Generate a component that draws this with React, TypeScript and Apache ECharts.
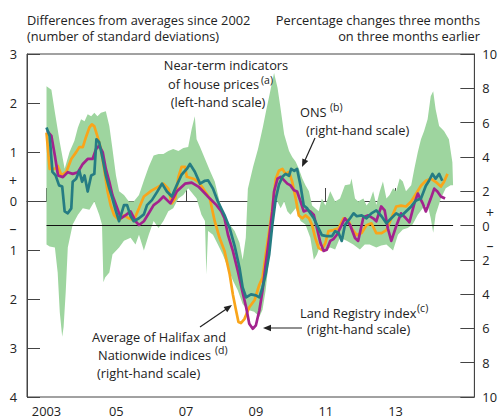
import React, { useEffect, useRef } from "react";
import * as echarts from "echarts";

// ---- Data ----
const xTickYears = [2003, 2005, 2007, 2009, 2011, 2013];
const xTickLabels = ["2003", "05", "07", "09", "11", "13"];

// Average of Halifax and Nationwide indices (right-hand scale, % 3m on 3m)
const halifaxNationwide: [number, number][] = [
  [2003.0, 5.42], [2003.09, 3.3], [2003.24, 3.3], [2003.32, 3.48], [2003.43, 2.92], [2003.57, 3.13],
  [2003.71, 3.88], [2003.85, 4.28], [2003.94, 4.57], [2004.04, 4.57], [2004.13, 5.15], [2004.23, 5.72],
  [2004.3, 5.9], [2004.37, 5.78], [2004.46, 5.2], [2004.56, 4.46], [2004.65, 3.3], [2004.75, 1.98],
  [2004.84, 1.17], [2004.94, 0.59], [2005.08, 0.31], [2005.22, 0.59], [2005.36, 0.42], [2005.5, 0.31],
  [2005.65, 1.0], [2005.79, 1.69], [2006.01, 2.03], [2006.21, 2.27], [2006.35, 2.44], [2006.49, 2.15],
  [2006.59, 1.29], [2006.69, 1.57], [2006.78, 2.84], [2006.87, 3.42], [2006.97, 3.42], [2007.02, 2.84],
  [2007.21, 2.73], [2007.35, 2.55], [2007.49, 2.15], [2007.68, 1.57], [2007.82, 0.25], [2007.96, -0.73],
  [2008.1, -1.48], [2008.25, -2.86], [2008.34, -4.02], [2008.43, -4.94], [2008.5, -5.63], [2008.57, -5.69],
  [2008.67, -5.46], [2008.81, -4.77], [2008.96, -4.36], [2009.1, -3.44], [2009.19, -3.04], [2009.28, -1.71],
  [2009.38, -0.33], [2009.47, 1.0], [2009.57, 2.73], [2009.66, 3.19], [2009.76, 3.3], [2009.85, 3.01],
  [2009.95, 3.13], [2010.04, 2.55], [2010.14, 1.57], [2010.23, 0.59], [2010.33, 0.42], [2010.42, 0.59],
  [2010.52, 0.42], [2010.61, 0.02], [2010.7, -0.73], [2010.8, -1.31], [2010.89, -1.42], [2010.99, -1.02],
  [2011.08, -0.33], [2011.22, -0.27], [2011.37, -0.16], [2011.51, 0.42], [2011.65, 0.31], [2011.74, -0.16],
  [2011.89, -0.56], [2012.03, -0.44], [2012.17, 0.02], [2012.31, 0.13], [2012.45, -0.44], [2012.6, -0.44],
  [2012.74, -0.27], [2012.88, 0.42], [2013.02, 1.11], [2013.16, 1.16], [2013.3, 1.11], [2013.45, 1.4],
  [2013.59, 1.86], [2013.73, 2.32], [2013.87, 2.61], [2014.01, 2.73], [2014.15, 2.55], [2014.3, 2.27],
  [2014.39, 2.55], [2014.49, 3.01],
];

// ONS (right-hand scale)
const ons: [number, number][] = [
  [2003.0, 5.71], [2003.09, 5.22], [2003.17, 3.13], [2003.26, 2.92], [2003.36, 2.34], [2003.45, 2.27],
  [2003.52, 0.82], [2003.61, 0.71], [2003.71, 1.0], [2003.75, 2.55], [2003.85, 2.73], [2003.94, 3.2],
  [2004.02, 2.55], [2004.09, 2.92], [2004.18, 1.98], [2004.28, 2.92], [2004.37, 3.01], [2004.43, 5.03],
  [2004.51, 4.86], [2004.61, 3.88], [2004.7, 2.92], [2004.8, 2.15], [2004.89, 1.57], [2004.99, 0.82],
  [2005.08, 0.25], [2005.22, 1.19], [2005.31, 1.19], [2005.41, 0.54], [2005.5, 0.25], [2005.65, 0.42],
  [2005.79, 0.65], [2005.88, 1.19], [2006.02, 1.48], [2006.17, 1.96], [2006.31, 2.44], [2006.45, 1.98],
  [2006.59, 1.69], [2006.73, 2.34], [2006.87, 2.96], [2007.02, 3.3], [2007.11, 3.59], [2007.25, 3.13],
  [2007.4, 2.44], [2007.54, 2.61], [2007.63, 2.63], [2007.77, 2.15], [2007.91, 1.4], [2008.1, 0.61],
  [2008.25, -0.16], [2008.39, -1.19], [2008.53, -2.46], [2008.62, -3.61], [2008.72, -4.19], [2008.86, -4.02],
  [2009.0, -4.07], [2009.1, -4.19], [2009.19, -3.61], [2009.28, -2.86], [2009.38, -1.71], [2009.47, 0.02],
  [2009.57, 1.57], [2009.66, 2.38], [2009.76, 2.84], [2009.85, 3.01], [2009.95, 2.9], [2010.01, 3.3],
  [2010.1, 3.19], [2010.18, 3.3], [2010.28, 2.32], [2010.37, 1.17], [2010.47, 1.0], [2010.56, 0.71],
  [2010.66, 0.42], [2010.75, 0.02], [2010.89, -0.56], [2011.03, -0.62], [2011.18, -0.62], [2011.27, -0.33],
  [2011.37, -0.44], [2011.46, -0.9], [2011.55, 0.02], [2011.7, 0.42], [2011.8, 0.71], [2011.89, 0.54],
  [2012.03, 0.59], [2012.17, 0.42], [2012.31, 0.71], [2012.45, 0.88], [2012.6, 0.54], [2012.74, 0.13],
  [2012.88, 0.42], [2013.02, 0.71], [2013.16, 0.54], [2013.3, 0.82], [2013.45, 1.11], [2013.59, 1.46],
  [2013.73, 1.57], [2013.87, 2.32], [2013.96, 2.61], [2014.06, 3.01], [2014.15, 2.73], [2014.25, 3.01],
  [2014.34, 2.61],
];

// Land Registry index (right-hand scale)
const landRegistry: [number, number][] = [
  [2003.02, 5.51], [2003.14, 5.22], [2003.24, 4.07], [2003.33, 2.92], [2003.47, 2.82], [2003.61, 3.11],
  [2003.75, 3.01], [2003.9, 3.11], [2004.04, 3.59], [2004.18, 3.88], [2004.32, 3.88], [2004.42, 4.46],
  [2004.51, 4.65], [2004.61, 4.28], [2004.7, 3.3], [2004.8, 2.55], [2004.89, 1.76], [2005.03, 1.0],
  [2005.13, 0.42], [2005.27, 0.61], [2005.41, 0.82], [2005.55, 0.25], [2005.65, 0.03], [2005.79, 0.25],
  [2005.93, 0.71], [2006.07, 1.19], [2006.21, 1.4], [2006.35, 1.69], [2006.55, 1.29], [2006.73, 1.98],
  [2006.97, 2.44], [2007.16, 2.5], [2007.35, 2.27], [2007.49, 1.98], [2007.68, 1.57], [2007.87, 1.19],
  [2008.01, 0.82], [2008.1, 0.42], [2008.2, -0.54], [2008.34, -1.48], [2008.48, -2.63], [2008.62, -3.9],
  [2008.72, -4.77], [2008.81, -5.73], [2008.91, -6.02], [2009.0, -5.82], [2009.1, -4.94], [2009.19, -3.79],
  [2009.28, -2.27], [2009.38, -0.73], [2009.47, 0.82], [2009.52, 1.98], [2009.62, 2.73], [2009.71, 2.84],
  [2009.81, 2.63], [2009.9, 2.44], [2009.99, 2.34], [2010.09, 2.05], [2010.18, 1.98], [2010.28, 1.4],
  [2010.37, 0.82], [2010.47, 0.9], [2010.56, 0.82], [2010.66, 0.61], [2010.75, -0.16], [2010.85, -1.02],
  [2010.94, -1.48], [2011.03, -1.41], [2011.13, -0.9], [2011.22, -0.79], [2011.32, -0.54], [2011.46, 0.03],
  [2011.55, 0.42], [2011.7, 0.03], [2011.84, -0.73], [2011.93, -0.9], [2012.08, 0.48], [2012.22, 0.59],
  [2012.36, 0.42], [2012.45, 0.25], [2012.59, 1.11], [2012.69, 0.88], [2012.78, -0.16], [2012.88, -0.9],
  [2013.02, -0.04], [2013.16, 0.71], [2013.3, 0.42], [2013.4, 0.19], [2013.54, 1.29], [2013.64, 1.86],
  [2013.78, 1.29], [2013.87, 0.82], [2014.01, 1.57], [2014.11, 2.15], [2014.2, 1.98], [2014.3, 1.69],
  [2014.42, 1.57],
];

// Near-term indicators of house prices: range (left-hand scale, standard deviations)
const bandUpper: [number, number][] = [
  [2003.0, 2.34], [2003.14, 2.27], [2003.24, 1.81], [2003.38, 1.2], [2003.52, 0.66], [2003.66, 1.0],
  [2003.8, 1.23], [2003.9, 1.5], [2003.99, 1.67], [2004.09, 1.63], [2004.18, 1.77], [2004.28, 1.73],
  [2004.37, 1.8], [2004.46, 1.73], [2004.56, 1.8], [2004.7, 1.83], [2004.8, 1.53], [2004.89, 1.06],
  [2004.99, 0.52], [2005.08, 0.2], [2005.22, 0.12], [2005.36, -0.01], [2005.5, -0.01], [2005.65, 0.12],
  [2005.79, 0.42], [2005.93, 0.7], [2006.07, 0.93], [2006.21, 0.96], [2006.35, 0.96], [2006.49, 1.02],
  [2006.63, 1.06], [2006.78, 1.02], [2006.92, 1.08], [2007.06, 1.1], [2007.16, 1.47], [2007.25, 1.73],
  [2007.3, 1.26], [2007.4, 1.1], [2007.54, 0.86], [2007.68, 0.62], [2007.82, 0.4], [2007.96, -0.01],
  [2008.1, -0.31], [2008.25, -0.48], [2008.39, -0.61], [2008.53, -0.85], [2008.62, -1.2], [2008.71, -0.75],
  [2008.77, 0.25], [2008.92, 0.7], [2009.06, 1.06], [2009.2, 1.51], [2009.29, 1.83], [2009.39, 2.17],
  [2009.52, 2.61], [2009.62, 2.31], [2009.71, 1.87], [2009.81, 1.36], [2009.95, 1.02], [2010.04, 0.9],
  [2010.14, 0.8], [2010.23, 0.66], [2010.33, 0.46], [2010.42, 0.32], [2010.52, 0.2], [2010.61, -0.09],
  [2010.7, -0.15], [2010.8, -0.21], [2010.89, 0.05], [2010.99, -0.09], [2011.13, 0.2], [2011.27, -0.01],
  [2011.41, 0.05], [2011.55, 0.32], [2011.7, 0.34], [2011.74, 0.46], [2011.84, 0.05], [2011.93, -0.01],
  [2012.08, 0.05], [2012.17, -0.09], [2012.26, -0.01], [2012.36, 0.2], [2012.45, -0.08], [2012.55, 0.2],
  [2012.64, 0.4], [2012.74, 0.05], [2012.83, 0.12], [2012.93, 0.26], [2013.02, 0.2], [2013.12, 0.46],
  [2013.21, 0.4], [2013.3, 0.2], [2013.45, 0.32], [2013.54, 0.66], [2013.64, 1.0], [2013.73, 1.26],
  [2013.82, 1.43], [2013.92, 1.67], [2014.01, 2.14], [2014.08, 2.24], [2014.15, 1.87], [2014.25, 1.53],
  [2014.39, 1.43], [2014.53, 1.26], [2014.63, 0.79], [2014.65, 0.32],
];

const bandLower: [number, number][] = [
  [2003.0, -0.89], [2003.09, -0.93], [2003.24, -0.95], [2003.32, -1.46], [2003.38, -2.27], [2003.45, -2.77],
  [2003.49, -2.57], [2003.55, -1.86], [2003.61, -0.95], [2003.75, -0.48], [2003.9, -0.28], [2004.04, -0.15],
  [2004.23, -0.18], [2004.37, -0.01], [2004.51, -0.28], [2004.59, -0.48], [2004.63, -1.66], [2004.68, -1.56],
  [2004.8, -1.46], [2004.89, -1.09], [2005.08, -0.95], [2005.22, -0.81], [2005.41, -0.75], [2005.55, -0.89],
  [2005.65, -0.69], [2005.79, -1.01], [2005.93, -0.69], [2006.07, -0.41], [2006.21, -0.55], [2006.35, -0.41],
  [2006.49, -0.21], [2006.63, -0.15], [2006.78, 0.05], [2006.92, 0.12], [2007.06, 0.26], [2007.3, 0.05],
  [2007.44, -0.28], [2007.54, -0.41], [2007.58, -1.5], [2007.63, -0.61], [2007.77, -0.69], [2007.91, -0.89],
  [2008.05, -1.09], [2008.2, -1.36], [2008.34, -1.62], [2008.48, -1.82], [2008.62, -2.1], [2008.76, -2.22],
  [2008.95, -2.26], [2009.1, -2.36], [2009.19, -2.22], [2009.28, -1.82], [2009.38, -1.16], [2009.47, -0.35],
  [2009.57, 0.05], [2009.71, -0.15], [2009.81, -0.01], [2009.9, -0.21], [2009.99, -0.28], [2010.14, -0.15],
  [2010.28, -0.41], [2010.42, -0.48], [2010.56, -0.75], [2010.66, -1.2], [2010.75, -1.09], [2010.85, -0.89],
  [2010.99, -1.01], [2011.13, -0.95], [2011.27, -0.99], [2011.41, -0.75], [2011.6, -0.81], [2011.79, -0.89],
  [2011.98, -0.99], [2012.12, -0.89], [2012.26, -0.89], [2012.45, -0.95], [2012.59, -0.91], [2012.74, -0.89],
  [2012.93, -1.01], [2013.07, -0.69], [2013.21, -0.58], [2013.35, -0.55], [2013.49, -0.48], [2013.64, -0.28],
  [2013.78, -0.15], [2013.92, -0.08], [2014.01, -0.35], [2014.08, -0.65], [2014.15, -0.28], [2014.3, 0.05],
  [2014.44, 0.26], [2014.58, 0.32], [2014.65, 0.32],
];

// ---- Styling ----
const FONT = "'Open Sans', 'Noto Sans', sans-serif";
const FS = 12.8;
const TXT = "#222";
const AX = "#444";
const GREEN = "#9ed59f";
const ORANGE = "#f9a51a";
const TEAL = "#257c83";
const MAGENTA = "#a3238e";

function txt(text: string, x: number, y: number, align: string, size = FS, extra: any = {}) {
  return {
    type: "text",
    x,
    y,
    silent: true,
    z: 100,
    style: {
      text,
      fill: TXT,
      fontSize: size,
      fontFamily: FONT,
      align,
      verticalAlign: "middle",
      textAlign: align,
      textVerticalAlign: "middle",
      ...extra,
    },
  };
}

function arrow(x1: number, y1: number, x2: number, y2: number) {
  const dx = x2 - x1;
  const dy = y2 - y1;
  const len = Math.sqrt(dx * dx + dy * dy);
  const ux = dx / len;
  const uy = dy / len;
  const hl = 8;
  const hw = 3.2;
  const bx = x2 - ux * hl;
  const by = y2 - uy * hl;
  return [
    {
      type: "line",
      silent: true,
      z: 100,
      shape: { x1, y1, x2: bx + ux * 2, y2: by + uy * 2 },
      style: { stroke: TXT, lineWidth: 1.2 },
    },
    {
      type: "polygon",
      silent: true,
      z: 100,
      shape: {
        points: [
          [x2, y2],
          [bx - uy * hw, by + ux * hw],
          [bx + uy * hw, by - ux * hw],
        ],
      },
      style: { fill: TXT },
    },
  ];
}

export default function App() {
  const ref = useRef<HTMLDivElement>(null);

  useEffect(() => {
    if (!ref.current) return;
    const chart = echarts.init(ref.current, null, { renderer: "svg" });

    const lineSeries = (name: string, data: [number, number][], color: string) => ({
      name,
      type: "line",
      xAxisIndex: 0,
      yAxisIndex: 1,
      data,
      showSymbol: false,
      symbol: "none",
      lineStyle: { color, width: 2.7, join: "round" },
      itemStyle: { color },
      silent: true,
      z: 5,
    });

    const option: any = {
      animation: false,
      backgroundColor: "#fff",
      textStyle: { fontFamily: FONT },
      grid: {
        left: 27,
        right: 21,
        top: 54,
        bottom: 16,
        show: true,
        borderColor: AX,
        borderWidth: 1,
        backgroundColor: "transparent",
        containLabel: false,
      },
      xAxis: {
        type: "value",
        min: 2002.441,
        max: 2015.26,
        axisLine: { show: true, lineStyle: { color: AX, width: 1 } },
        axisTick: {
          show: true,
          inside: true,
          length: 13,
          customValues: xTickYears,
          lineStyle: { color: AX, width: 1 },
        },
        axisLabel: {
          show: true,
          customValues: xTickYears,
          formatter: (v: number) => {
            const i = xTickYears.indexOf(Math.round(v));
            return i >= 0 ? xTickLabels[i] : "";
          },
          color: TXT,
          fontSize: FS,
          fontFamily: FONT,
          margin: 7,
        },
        splitLine: { show: false },
      },
      yAxis: [
        {
          type: "value",
          position: "left",
          min: -4,
          max: 3,
          interval: 1,
          axisLine: { show: true, lineStyle: { color: AX, width: 1 } },
          axisTick: { show: true, inside: true, length: 13, lineStyle: { color: AX, width: 1 } },
          axisLabel: {
            formatter: (v: number) => String(Math.abs(v)),
            color: TXT,
            fontSize: FS,
            fontFamily: FONT,
            margin: 10,
          },
          splitLine: { show: false },
        },
        {
          type: "value",
          position: "right",
          min: -10,
          max: 10,
          interval: 2,
          axisLine: { show: true, lineStyle: { color: AX, width: 1 } },
          axisTick: { show: true, inside: true, length: 14, lineStyle: { color: AX, width: 1 } },
          axisLabel: {
            formatter: (v: number) => String(Math.abs(v)),
            color: TXT,
            fontSize: FS,
            fontFamily: FONT,
            margin: 8,
          },
          splitLine: { show: false },
        },
      ],
      series: [
        {
          name: "Near-term indicators",
          type: "custom",
          xAxisIndex: 0,
          yAxisIndex: 0,
          data: bandUpper,
          silent: true,
          z: 1,
          renderItem: (params: any, api: any) => {
            if (params.dataIndex !== 0) return { type: "group", children: [] };
            const pts = [
              ...bandUpper.map((p) => api.coord(p)),
              ...bandLower
                .slice()
                .reverse()
                .map((p) => api.coord(p)),
            ];
            return { type: "polygon", shape: { points: pts }, style: { fill: GREEN, stroke: "none" } };
          },
        },
        {
          name: "zero",
          type: "line",
          xAxisIndex: 0,
          yAxisIndex: 1,
          data: [
            [bandUpper[0][0], 0],
            [bandUpper[bandUpper.length - 1][0], 0],
          ],
          showSymbol: false,
          symbol: "none",
          lineStyle: { color: "#111", width: 1.2 },
          silent: true,
          z: 3,
        },
        lineSeries("Halifax/Nationwide", halifaxNationwide, ORANGE),
        lineSeries("Land Registry", landRegistry, MAGENTA),
        lineSeries("ONS", ons, TEAL),
      ],
      graphic: [
        txt("Differences from averages since 2002", 27, 20, "left"),
        txt("(number of standard deviations)", 27, 36, "left"),
        txt("Percentage changes three months", 480, 20, "right"),
        txt("on three months earlier", 480, 36, "right"),
        // sign markers
        txt("+", 13, 180, "center", 14),
        txt("\u2013", 13, 228, "center", 14),
        txt("+", 490, 212, "center", 14),
        txt("\u2013", 490, 245, "center", 14),
        // near-term indicators
        txt("Near-term indicators", 226, 65, "center"),
        txt("of house prices", 259, 84, "right"),
        txt("(a)", 261, 80, "left", 10.5),
        txt("(left-hand scale)", 218, 102, "center"),
        // ONS
        txt("ONS", 300, 112, "left"),
        txt("(b)", 330, 107, "left", 10.5),
        txt("(right-hand scale)", 306, 130, "left"),
        ...arrow(315, 138, 302, 167),
        // Land Registry
        txt("Land Registry index", 300, 313, "left"),
        txt("(c)", 417, 308, "left", 10.5),
        txt("(right-hand scale)", 307, 329, "left"),
        ...arrow(302, 328, 263, 328),
        // Halifax / Nationwide
        txt("Average of Halifax and", 92, 337, "left"),
        txt("Nationwide indices", 98, 355, "left"),
        txt("(d)", 215, 350, "left", 10.5),
        txt("(right-hand scale)", 97, 373, "left"),
        ...arrow(200, 327, 232, 305),
      ],
    };

    chart.setOption(option);
    return () => chart.dispose();
  }, []);

  return (
    <div
      ref={ref}
      style={{ position: "fixed", left: 0, top: 0, width: 500, height: 417, overflow: "hidden" }}
    />
  );
}
